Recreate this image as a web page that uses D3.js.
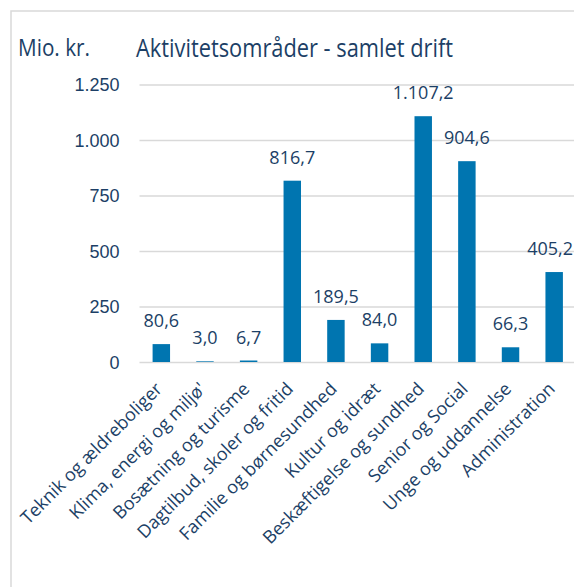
<!DOCTYPE html>
<html>
<head>
<meta charset="utf-8">
<script src="https://cdn.jsdelivr.net/npm/d3@7"></script>
<style>
  body { margin: 0; background: #fff; }
  svg { display: block; font-family: "Open Sans", sans-serif; }
</style>
</head>
<body>
<svg id="chart" width="574" height="587"></svg>
<script>
// Aktivitetsområder - samlet drift (mio. kr.)
const categories = [
  "Teknik og ældreboliger",
  "Klima, energi og miljø'",
  "Bosætning og turisme",
  "Dagtilbud, skoler og fritid",
  "Familie og børnesundhed",
  "Kultur og idræt",
  "Beskæftigelse og sundhed",
  "Senior og Social",
  "Unge og uddannelse",
  "Administration",
];
const values = [80.6, 3.0, 6.7, 816.7, 189.5, 84.0, 1107.2, 904.6, 66.3, 405.2];
const yTicks = [0, 250, 500, 750, 1000, 1250];

const TEXT = "#1c3f66";
const BAR = "#0075b0";
const GRID = "#d9d9d9";

const width = 574;
const height = 587;
const margin = { top: 84.5, right: -2, bottom: 225, left: 139.5 };

const svg = d3.select("#chart");

// da-DK style number formatting
const da = d3.formatLocale({
  decimal: ",",
  thousands: ".",
  grouping: [3],
  currency: ["", " kr."],
});
const fmtTick = da.format(",.0f");
const fmtVal = da.format(",.1f");

const x = d3
  .scaleBand()
  .domain(categories)
  .range([margin.left, width - margin.right])
  .paddingInner(0.6)
  .paddingOuter(0.3);

const y = d3
  .scaleLinear()
  .domain([0, 1250])
  .range([height - margin.bottom, margin.top]);

// outer frame
svg.append("rect")
  .attr("x", 11)
  .attr("y", 11)
  .attr("width", 620)
  .attr("height", 620)
  .attr("fill", "none")
  .attr("stroke", GRID)
  .attr("stroke-width", 1.5);

// gridlines + y tick labels
const yAxis = svg.append("g")
  .attr("transform", `translate(${margin.left},0)`)
  .call(
    d3.axisLeft(y)
      .tickValues(yTicks)
      .tickSize(-(width - margin.left))
      .tickPadding(20)
      .tickFormat(fmtTick)
  );
yAxis.select(".domain").remove();
yAxis.selectAll(".tick line").attr("stroke", GRID).attr("stroke-width", 1.5);
yAxis.selectAll(".tick text")
  .attr("fill", TEXT)
  .style("font-size", "18px")
  .attr("dy", "0.35em");

// bars
svg.append("g")
  .selectAll("rect")
  .data(values)
  .join("rect")
  .attr("x", (d, i) => x(categories[i]))
  .attr("y", (d) => y(d))
  .attr("width", x.bandwidth())
  .attr("height", (d) => y(0) - y(d))
  .attr("fill", BAR);

// value labels (kept inside the right edge)
svg.append("g")
  .selectAll("text")
  .data(values)
  .join("text")
  .attr("x", (d, i) => x(categories[i]) + x.bandwidth() / 2)
  .attr("y", (d) => y(d) - 17)
  .attr("text-anchor", "middle")
  .attr("fill", TEXT)
  .style("font-size", "18px")
  .text((d) => fmtVal(d))
  .each(function () {
    const box = this.getBBox();
    const overflow = box.x + box.width - (width - 1);
    if (overflow > 0) d3.select(this).attr("x", +this.getAttribute("x") - overflow);
  });

// category labels, rotated
svg.append("g")
  .selectAll("text")
  .data(categories)
  .join("text")
  .attr("transform", (d) => {
    const cx = x(d) + x.bandwidth() / 2 + 2;
    return `translate(${cx},${y(0) + 28}) rotate(-45)`;
  })
  .attr("text-anchor", "end")
  .attr("fill", TEXT)
  .style("font-size", "18px")
  .text((d) => d);

// unit label and title
svg.append("text")
  .attr("x", 18)
  .attr("y", 56)
  .attr("fill", TEXT)
  .style("font-size", "23px")
  .attr("textLength", 72)
  .attr("lengthAdjust", "spacingAndGlyphs")
  .text("Mio. kr.");

svg.append("text")
  .attr("x", 136)
  .attr("y", 57)
  .attr("fill", TEXT)
  .style("font-size", "25px")
  .attr("textLength", 317)
  .attr("lengthAdjust", "spacingAndGlyphs")
  .text("Aktivitetsområder - samlet drift");
</script>
</body>
</html>
